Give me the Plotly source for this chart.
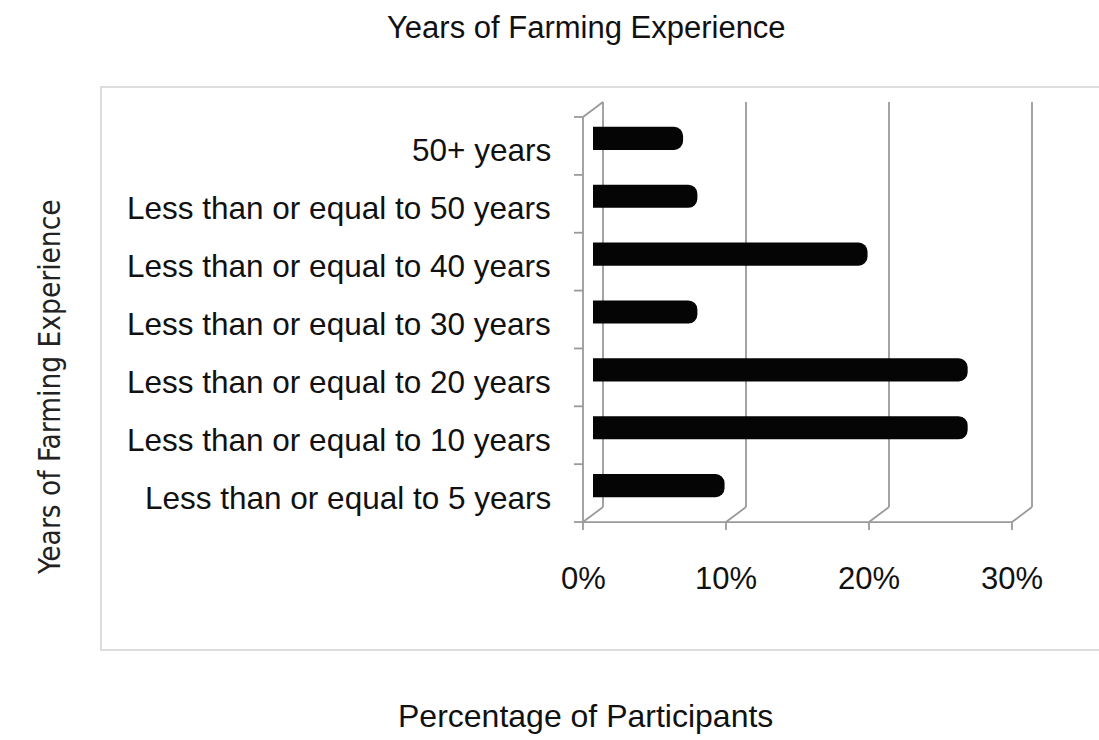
import plotly.graph_objects as go

# Survey results: share of participants by years of farming experience
categories = [
    "Less than or equal to 5 years",
    "Less than or equal to 10 years",
    "Less than or equal to 20 years",
    "Less than or equal to 30 years",
    "Less than or equal to 40 years",
    "Less than or equal to 50 years",
    "50+ years",
]
percentages = [9.2, 26.2, 26.2, 7.3, 19.2, 7.3, 6.3]
x_ticks = [0, 10, 20, 30]
x_tick_labels = ["0%", "10%", "20%", "30%"]

TITLE = "Years of Farming Experience"
X_TITLE = "Percentage of Participants"
Y_TITLE = "Years of Farming Experience"

# ---- page geometry (pixels) ----
FIG_W, FIG_H = 1099, 740
L, T = 557, 95
PLOT_W, PLOT_H = 500, 440
R = FIG_W - L - PLOT_W
B = FIG_H - T - PLOT_H

PX_PER_PCT = 14.3
ZERO_PX = 593.0
PX_PER_CAT = 57.86
CAT0_PX = 485.6

x_range = [(L - ZERO_PX) / PX_PER_PCT, (L + PLOT_W - ZERO_PX) / PX_PER_PCT]
y_range = [(CAT0_PX - (T + PLOT_H)) / PX_PER_CAT, (CAT0_PX - T) / PX_PER_CAT]

# pseudo-3D depth offset (half depth) in data units
DX = 10 / PX_PER_PCT
DY = 7.5 / PX_PER_CAT
TICK_X = 9 / PX_PER_PCT
TICK_Y = 8 / PX_PER_CAT


def paper_x(px):
    return (px - L) / PLOT_W


def paper_y(py):
    return (T + PLOT_H - py) / PLOT_H


GRID = "#9a9a9a"
GW = 1.8
TEXT = "#111111"
FONT = "Liberation Sans, Arial, sans-serif"

y_pos = list(range(len(categories)))
y_lo, y_hi = -0.5, len(categories) - 0.5

fig = go.Figure()
fig.add_trace(go.Bar(
    x=percentages,
    y=y_pos,
    orientation="h",
    width=0.4,
    marker=dict(color="#050505", line=dict(width=0)),
    hoverinfo="skip",
))

shapes = []


def seg(x0, y0, x1, y1, color=GRID, width=GW):
    shapes.append(dict(type="line", xref="x", yref="y", x0=x0, y0=y0,
                       x1=x1, y1=y1, line=dict(color=color, width=width),
                       layer="below"))


# back wall gridlines and floor diagonals
for v in x_ticks:
    seg(v + DX, y_lo + DY, v + DX, y_hi + DY)
    seg(v - DX, y_lo - DY, v + DX, y_lo + DY)
    # tick marks under the front edge
    seg(v - DX, y_lo - DY, v - DX, y_lo - DY - TICK_Y)

# front floor edge
seg(x_ticks[0] - DX, y_lo - DY, x_ticks[-1] - DX, y_lo - DY)
# left side wall
seg(-DX, y_lo - DY, -DX, y_hi - DY)
seg(-DX, y_hi - DY, DX, y_hi + DY)
# category boundary ticks on the left wall
for k in range(len(categories) + 1):
    yb = y_lo + k - DY
    seg(-DX - TICK_X, yb, -DX, yb)

# chart area border
shapes.append(dict(type="rect", xref="paper", yref="paper",
                   x0=paper_x(101), y0=paper_y(650), x1=paper_x(1100), y1=paper_y(87),
                   line=dict(color="#d2d2d2", width=1.5), layer="below"))

annotations = []
for i, name in enumerate(categories):
    annotations.append(dict(text=name, xref="paper", x=paper_x(553), xanchor="right",
                            yref="y", y=y_pos[i], yshift=-12, yanchor="middle",
                            showarrow=False, font=dict(family=FONT, size=31.5, color=TEXT)))
for v, lab in zip(x_ticks, x_tick_labels):
    annotations.append(dict(text=lab, xref="x", x=v - DX, xanchor="center",
                            yref="paper", y=paper_y(578), yanchor="middle",
                            showarrow=False, font=dict(family=FONT, size=31, color=TEXT)))
annotations.append(dict(text=TITLE, xref="paper", x=paper_x(586), xanchor="center",
                        yref="paper", y=paper_y(28), yanchor="middle", showarrow=False,
                        font=dict(family=FONT, size=31, color=TEXT)))
annotations.append(dict(text=X_TITLE, xref="paper", x=paper_x(585), xanchor="center",
                        yref="paper", y=paper_y(716), yanchor="middle", showarrow=False,
                        font=dict(family=FONT, size=32, color=TEXT)))
annotations.append(dict(text=Y_TITLE, xref="paper", x=paper_x(50), xanchor="center",
                        yref="paper", y=paper_y(387), yanchor="middle", textangle=-90,
                        showarrow=False,
                        font=dict(family="Liberation Sans Narrow, DejaVu Sans Condensed, sans-serif",
                                  size=29.5, color="#222222")))

fig.update_layout(
    width=FIG_W, height=FIG_H,
    margin=dict(l=L, r=R, t=T, b=B),
    paper_bgcolor="white", plot_bgcolor="white",
    showlegend=False,
    barcornerradius=9,
    xaxis=dict(range=x_range, showgrid=False, zeroline=False, showline=False,
               showticklabels=False, ticks="", fixedrange=True),
    yaxis=dict(range=y_range, showgrid=False, zeroline=False, showline=False,
               showticklabels=False, ticks="", fixedrange=True),
    shapes=shapes,
    annotations=annotations,
)

fig.write_html("out.html")
